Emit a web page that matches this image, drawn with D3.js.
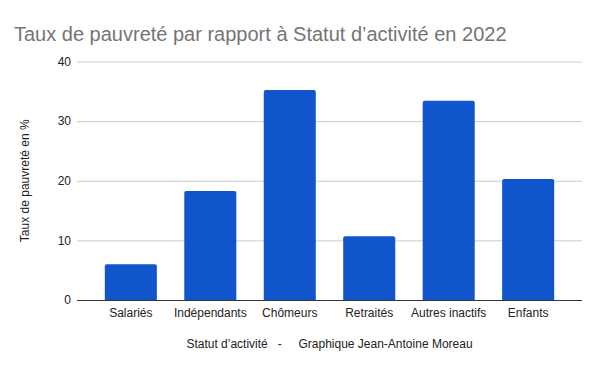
<!DOCTYPE html>
<html>
<head>
<meta charset="utf-8">
<script src="https://cdn.jsdelivr.net/npm/d3@7"></script>
<style>
  body { margin: 0; background: #fff; }
  text { font-family: Arial, "Liberation Sans", sans-serif; }
</style>
</head>
<body>
<script>
const categories = ["Salariés", "Indépendants", "Chômeurs", "Retraités", "Autres inactifs", "Enfants"];
const values = [6.0, 18.3, 35.2, 10.7, 33.4, 20.3];
const yTicks = [0, 10, 20, 30, 40];

const svgWidth = 600, svgHeight = 371;
const margin = { top: 61.5, right: 18, bottom: 71, left: 77 };
const width = svgWidth - margin.left - margin.right;
const height = svgHeight - margin.top - margin.bottom;

const svg = d3.select("body")
    .append("svg")
    .attr("width", svgWidth)
    .attr("height", svgHeight);

svg.append("text")
    .attr("x", 14)
    .attr("y", 41)
    .attr("font-size", 20)
    .attr("fill", "#757575")
    .text("Taux de pauvreté par rapport à Statut d’activité en 2022");

const g = svg.append("g")
    .attr("transform", `translate(${margin.left}, ${margin.top})`);

const x = d3.scaleBand().domain(categories).range([0, width]).paddingInner(0.345).paddingOuter(0.35);
const y = d3.scaleLinear().domain([0, 40]).range([height, 0]);

// gridlines
g.append("g")
    .selectAll("line")
    .data(yTicks.filter(d => d > 0))
    .join("line")
    .attr("x1", 0)
    .attr("x2", width)
    .attr("y1", d => y(d) + 0.5)
    .attr("y2", d => y(d) + 0.5)
    .attr("stroke", "#cccccc");

// y tick labels
g.append("g")
    .selectAll("text")
    .data(yTicks)
    .join("text")
    .attr("x", -6)
    .attr("y", d => y(d))
    .attr("dy", "0.35em")
    .attr("text-anchor", "end")
    .attr("font-size", 12)
    .attr("fill", "#222")
    .text(d => d);

// bars with slightly rounded top
g.append("g")
    .selectAll("path")
    .data(values)
    .join("path")
    .attr("fill", "#1155cc")
    .attr("d", (d, i) => {
        const x0 = x(categories[i]), w = x.bandwidth();
        const y0 = y(d), y1 = y(0), r = 2;
        return `M${x0},${y1} V${y0 + r} Q${x0},${y0} ${x0 + r},${y0} H${x0 + w - r} Q${x0 + w},${y0} ${x0 + w},${y0 + r} V${y1} Z`;
    });

// baseline
g.append("line")
    .attr("x1", 0)
    .attr("x2", width)
    .attr("y1", y(0) + 0.5)
    .attr("y2", y(0) + 0.5)
    .attr("stroke", "#333333");

// x labels
g.append("g")
    .selectAll("text")
    .data(categories)
    .join("text")
    .attr("x", d => x(d) + x.bandwidth() / 2)
    .attr("y", height + 17)
    .attr("text-anchor", "middle")
    .attr("font-size", 12)
    .attr("fill", "#222")
    .text(d => d);

// x axis title
g.append("text")
    .attr("x", width / 2)
    .attr("y", height + 48)
    .attr("text-anchor", "middle")
    .attr("font-size", 12)
    .attr("fill", "#222")
    .attr("xml:space", "preserve")
    .style("white-space", "pre")
    .text("Statut d’activité   -     Graphique Jean-Antoine Moreau");

// y axis title
g.append("text")
    .attr("transform", `translate(${-48}, ${height / 2}) rotate(-90)`)
    .attr("text-anchor", "middle")
    .attr("font-size", 12)
    .attr("fill", "#222")
    .text("Taux de pauvreté en %");
</script>
</body>
</html>
